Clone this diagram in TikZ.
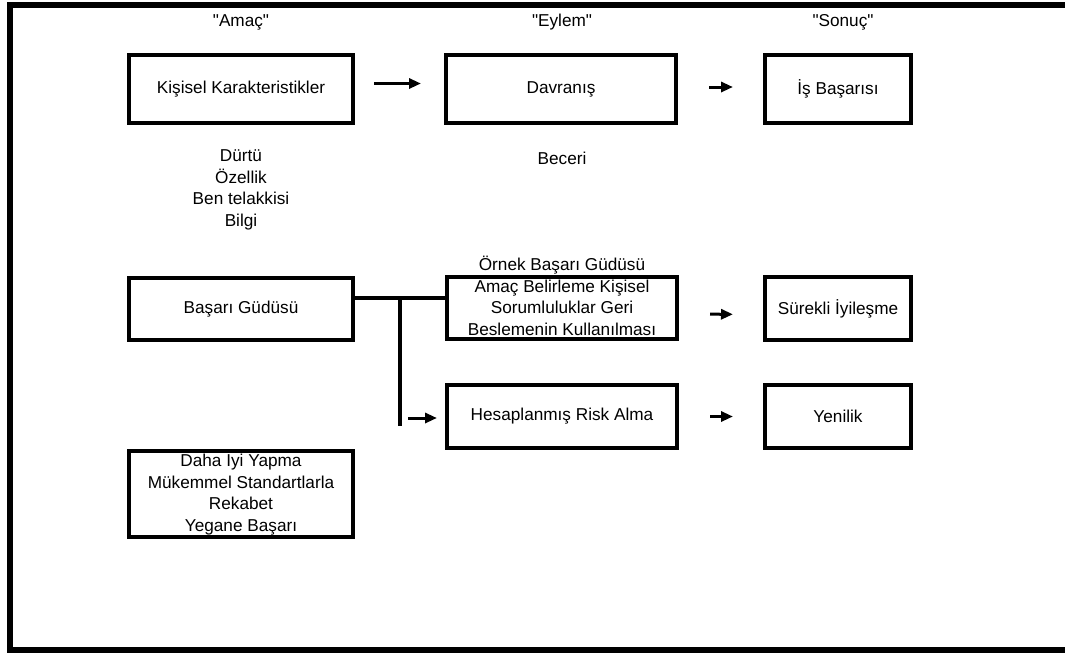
\documentclass[tikz,border=0pt]{standalone}
\usepackage{fontspec}
\setmainfont{Liberation Sans}[Ligatures=TeXOff]
\usetikzlibrary{arrows.meta}

\begin{document}
\begin{tikzpicture}[x=1pt, y=-1pt,
            every node/.style={font=\fontsize{17.2}{21.5}\selectfont, align=center, inner sep=0pt},
            box/.style={draw, line width=4pt, minimum height=68pt},
            widebox/.style={box, minimum width=224pt},
            midbox/.style={box, minimum width=230pt},
            smallbox/.style={box, minimum width=146pt},
            link/.style={line width=4pt},
            arrow/.style={line width=3pt, -{Triangle[length=12pt, width=10pt]}}]
            \useasboundingbox (0,0) rectangle (1065,654);
            \draw[line width=6pt] (1065,4.5) -- (10,4.5) -- (10,650) -- (1065,650);
            \node (amac) at (241,22) {"Amaç"};
            \node (eylem) at (562,22) {"Eylem"};
            \node (sonuc) at (843,22) {"Sonuç"};
            \node[widebox] (kisisel) at (241,89) {Kişisel Karakteristikler};
            \node[midbox] (davranis) at (561,89) {Davranış};
            \node[smallbox] (isbasarisi) at (838,89) {İş Başarısı};
            \node (kaynaklar) at (241,190) {Dürtü\\Özellik\\Ben telakkisi\\Bilgi};
            \node (beceri) at (562,158) {Beceri};
            \node[widebox, minimum height=62pt] (gudusu) at (241,309) {Başarı Güdüsü};
            \node[midbox, minimum height=62pt] (ornek) at (562,308) {};
            \node (ornektext) at (562,296) {Örnek Başarı Güdüsü\\Amaç Belirleme Kişisel\\Sorumluluklar Geri\\Beslemenin Kullanılması};
            \node[smallbox, minimum height=63pt] (iyilesme) at (838,308.5) {Sürekli İyileşme};
            \node[midbox, minimum height=63pt] (risk) at (562,416.5) {Hesaplanmış Risk Alma};
            \node[smallbox, minimum height=63pt] (yenilik) at (838,416.5) {Yenilik};
            \node[widebox, minimum height=86pt] (dahaiyi) at (241,493.5) {Daha İyi Yapma\\Mükemmel Standartlarla\\Rekabet\\Yegane Başarı};
            \coordinate (fork) at (400,298);
            \coordinate (forkend) at (400,426);
            \coordinate (riskstart) at (408,418);
            \draw[arrow, shorten <=19pt, shorten >=23pt] ([yshift=5.5pt]kisisel.east) -- ([yshift=5.5pt]davranis.west);
            \draw[arrow, shorten <=31pt, shorten >=30pt] ([yshift=2pt]davranis.east) -- ([yshift=2pt]isbasarisi.west);
            \draw[link] (fork -| gudusu.east) -- (fork -| ornek.west);
            \draw[link] (fork) -- (forkend);
            \draw[arrow, shorten >=8pt] (riskstart) -- (riskstart -| risk.west);
            \draw[arrow, shorten <=31pt, shorten >=30pt] ([yshift=-6pt]ornek.east) -- ([yshift=-6pt]iyilesme.west);
            \draw[arrow, shorten <=31pt, shorten >=30pt] (risk.east) -- (yenilik.west);
\end{tikzpicture}
\end{document}
